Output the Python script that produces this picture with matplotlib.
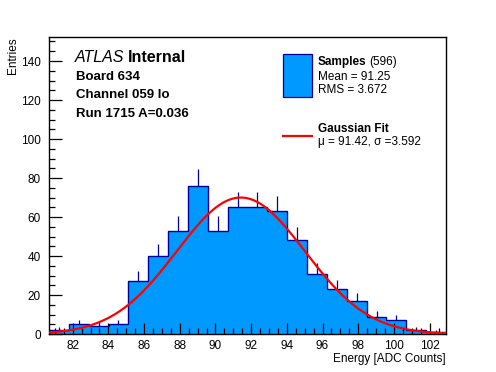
import numpy as np
import matplotlib.pyplot as plt
from matplotlib.patches import Rectangle
from matplotlib.lines import Line2D

plt.rcParams['font.family'] = ['Liberation Sans', 'DejaVu Sans']

# histogram (20 bins)
x_min, x_max = 80.67, 102.92
counts = [2, 5, 4, 5, 27, 40, 53, 76, 53, 65,
          65, 63, 48, 31, 23, 17, 9, 7, 2, 1]
# gaussian fit
fit_amp = 70.0
fit_mu = 91.42
fit_sigma = 3.592

edges = np.linspace(x_min, x_max, len(counts) + 1)
centers = 0.5 * (edges[:-1] + edges[1:])
counts = np.array(counts)

fig = plt.figure(figsize=(4.96, 3.72), dpi=100)
ax = fig.add_axes([0.0988, 0.102, 0.8004, 0.7985])

fill_col = '#0099ff'
edge_col = '#000099'

ax.stairs(counts, edges, fill=True, color=fill_col, zorder=1)
ax.stairs(counts, edges, color=edge_col, lw=1.0, zorder=2)
ax.vlines(centers, counts, counts + np.sqrt(counts), color=edge_col, lw=0.9, zorder=2)

xf = np.linspace(x_min, x_max, 400)
yf = fit_amp * np.exp(-0.5 * ((xf - fit_mu) / fit_sigma) ** 2)
ax.plot(xf, yf, color='#ff0000', lw=1.6, zorder=3)

ax.set_xlim(x_min, x_max)
ax.set_ylim(0, 152.3)
ax.set_xticks(np.arange(82, 103, 2))
ax.set_xticks(np.arange(81, 103, 0.5), minor=True)
ax.set_yticks(np.arange(0, 141, 20))
ax.set_yticks(np.arange(0, 151, 5), minor=True)
ax.tick_params(which='both', direction='in', top=False, right=False, labelsize=8.5, width=0.9)
ax.tick_params(axis='x', which='major', length=8, pad=4)
ax.tick_params(axis='x', which='minor', length=4)
ax.tick_params(axis='y', which='major', length=9, pad=6)
ax.tick_params(axis='y', which='minor', length=4.5)
for s in ax.spines.values():
    s.set_linewidth(1.0)

ax.set_xlabel('Energy [ADC Counts]', fontsize=8.5, loc='right', labelpad=1)
ax.set_ylabel('Entries', fontsize=8.5, loc='top', labelpad=1)

# ATLAS label
fig.text(75 / 496, 1 - 58 / 372, 'ATLAS', fontsize=11.5, style='italic', va='center', ha='left')
fig.text(127.5 / 496, 1 - 58 / 372, 'Internal', fontsize=11.5, weight='bold', va='center', ha='left')
info = ['Board 634', 'Channel 059 lo', 'Run 1715 A=0.036']
for i, t in enumerate(info):
    fig.text(76 / 496, 1 - (77 + 18.5 * i) / 372, t, fontsize=9.5, weight='bold', va='center', ha='left')

# legend
fig.patches.append(Rectangle((283 / 496, 1 - 97 / 372), 28.5 / 496, 43.5 / 372,
                             transform=fig.transFigure, facecolor=fill_col,
                             edgecolor=edge_col, lw=0.9))
fig.lines.append(Line2D([283 / 496, 311.5 / 496], [1 - 136 / 372] * 2,
                        transform=fig.transFigure, color='#ff0000', lw=1.6))
fig.text(318 / 496, 1 - 62 / 372, 'Samples', fontsize=8.5, weight='bold', va='center')
fig.text(369.5 / 496, 1 - 62 / 372, '(596)', fontsize=8.5, va='center')
fig.text(318 / 496, 1 - 77 / 372, 'Mean = 91.25', fontsize=8.5, va='center')
fig.text(318 / 496, 1 - 90 / 372, 'RMS = 3.672', fontsize=8.5, va='center')
fig.text(318 / 496, 1 - 129.5 / 372, 'Gaussian Fit', fontsize=8.5, weight='bold', va='center')
fig.text(318 / 496, 1 - 142 / 372, 'μ = 91.42, σ =3.592', fontsize=8.5, va='center')

fig.savefig('out.png', dpi=100)
